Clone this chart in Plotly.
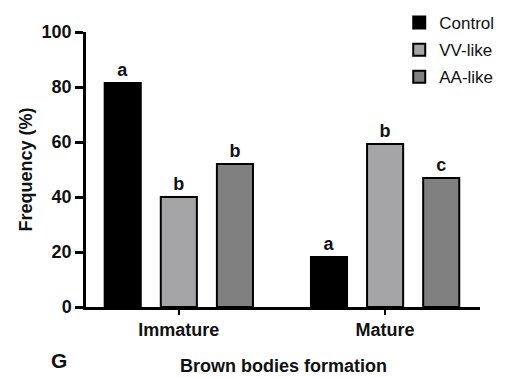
import plotly.graph_objects as go

categories = ["Immature", "Mature"]
series_names = ["Control", "VV-like", "AA-like"]
control = [81.5, 18.2]
vv_like = [40.0, 59.3]
aa_like = [52.0, 46.9]
control_letters = ["a", "a"]
vv_letters = ["b", "b"]
aa_letters = ["b", "c"]
y_ticks = [0, 20, 40, 60, 80, 100]

colors = ["#000000", "#a5a5a8", "#808080"]
FONT = "Liberation Sans, Arial, sans-serif"

fig = go.Figure()
for name, vals, letters, col in zip(series_names, [control, vv_like, aa_like],
                                    [control_letters, vv_letters, aa_letters], colors):
    fig.add_trace(go.Bar(
        name=name, x=categories, y=vals, text=letters,
        textposition="outside",
        outsidetextfont=dict(family=FONT, size=18, color="#111", weight="bold"),
        marker=dict(color=col, line=dict(color="#000", width=2)),
        legendgroup=name, cliponaxis=False,
    ))

fig.update_layout(
    width=505, height=378,
    margin=dict(l=86, r=25, t=32, b=71, autoexpand=False),
    paper_bgcolor="white", plot_bgcolor="white",
    barmode="group", bargap=0.184, bargroupgap=0.357,
    font=dict(family=FONT, color="#111"),
    legend=dict(x=0.795, y=1.098, xanchor="left", yanchor="top",
                font=dict(family=FONT, size=17, color="#111"),
                traceorder="grouped", tracegroupgap=2,
                bgcolor="rgba(0,0,0,0)"),
    showlegend=True,
)
fig.update_yaxes(range=[0, 100], tickvals=y_ticks, showline=True, linecolor="#000",
                 linewidth=2.5, ticks="outside", ticklen=8, tickwidth=2.5, tickcolor="#000",
                 showgrid=False, zeroline=False, automargin=False,
                 tickfont=dict(family=FONT, size=18, color="#111", weight="bold"))
fig.update_xaxes(range=[-0.45, 1.46], showline=True, linecolor="#000", linewidth=2.5,
                 ticks="outside", ticklen=5, tickwidth=2, tickcolor="#000", automargin=False,
                 tickfont=dict(family=FONT, size=18, color="#111", weight="bold"))

fig.add_annotation(text="Frequency (%)", xref="paper", yref="paper", x=0, y=0.5,
                   xshift=-61, textangle=-90, showarrow=False, xanchor="center",
                   font=dict(family=FONT, size=18, color="#111", weight="bold"))
fig.add_annotation(text="Brown bodies formation", xref="paper", yref="paper", x=0.5, y=0,
                   yshift=-59, yanchor="middle", showarrow=False,
                   font=dict(family=FONT, size=18, color="#111", weight="bold"))
fig.add_annotation(text="G", xref="paper", yref="paper", x=0, y=0,
                   xshift=-37, yshift=-53, yanchor="middle", showarrow=False,
                   font=dict(family=FONT, size=21, color="#111", weight="bold"))

fig.write_html("out.html")
